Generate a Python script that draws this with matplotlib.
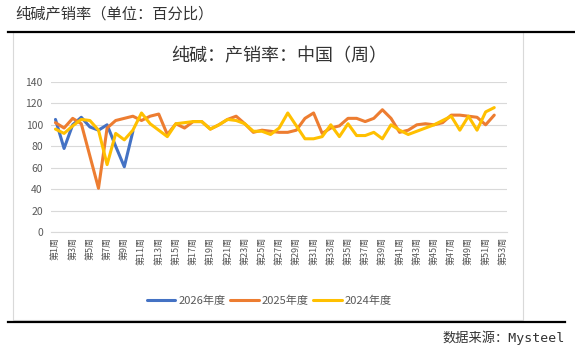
import matplotlib
matplotlib.use("Agg")
import matplotlib.pyplot as plt
from matplotlib.lines import Line2D
from matplotlib.patches import Rectangle

plt.rcParams["font.family"] = ["Noto Sans CJK SC", "DejaVu Sans"]

# ── data ────────────────────────────────────────────────────────────────────
weeks = list(range(1, 54))
week_labels = [f"第{w}周" for w in weeks]

sales_2026 = [105, 78, 100, 107, 98, 95, 100, 80, 61, 94]
sales_2025 = [102, 97, 106, 101, 71, 41, 97, 104, 106, 108,
              104, 108, 110, 91, 101, 97, 103, 103, 96, 100,
              105, 108, 101, 93, 95, 94, 93, 93, 95, 106,
              111, 92, 97, 99, 106, 106, 103, 106, 114, 106,
              93, 95, 100, 101, 100, 102, 109, 109, 108, 107,
              100, 109]
sales_2024 = [96, 92, 99, 105, 104, 95, 63, 92, 86, 95,
              111, 101, 95, 89, 101, 102, 103, 103, 96, 100,
              105, 104, 101, 94, 94, 91, 97, 111, 99, 87,
              87, 89, 100, 89, 101, 90, 90, 93, 87, 100,
              95, 91, 94, 97, 100, 104, 108, 95, 108, 95,
              112, 116]

series = [
    ("2026年度", sales_2026, "#4472C4"),
    ("2025年度", sales_2025, "#ED7D31"),
    ("2024年度", sales_2024, "#FFC000"),
]

GRAY = "#595959"

fig = plt.figure(figsize=(5.75, 3.51), dpi=100)
ax = fig.add_axes([0.089, 0.338, 0.793, 0.429])

for name, vals, col in series:
    ax.plot(weeks[:len(vals)], vals, color=col, linewidth=2.2, label=name,
            solid_joinstyle="round", solid_capstyle="round")

ax.set_xlim(0.5, 53.5)
ax.set_ylim(0, 140)
ax.set_yticks(range(0, 141, 20))
ax.grid(True, axis="y", color="#D9D9D9", linewidth=0.8)
ax.set_axisbelow(True)
for s in ["top", "right", "left"]:
    ax.spines[s].set_visible(False)
ax.spines["bottom"].set_color("#D9D9D9")
ax.spines["bottom"].set_linewidth(0.8)

ax.set_xticks(weeks[::2])
ax.set_xticklabels(week_labels[::2], rotation=90, fontsize=6.5, color=GRAY)
ax.tick_params(axis="x", length=0, pad=3)
ax.tick_params(axis="y", length=0, pad=6, labelsize=7.5, labelcolor=GRAY)

ax.set_title("纯碱：产销率：中国（周）", fontsize=13, color="#333333", pad=15)

fig.legend(loc="center", bbox_to_anchor=(0.468, 0.143), ncol=3, frameon=False,
           fontsize=8, handlelength=2.6, handletextpad=0.25, columnspacing=0.4,
           labelcolor=GRAY)

# ── page decorations ────────────────────────────────────────────────────────
W, H = 575, 351
fig.add_artist(Rectangle((13.5 / W, 1 - 320 / H), (523 - 13.5) / W, (320 - 32) / H,
                         transform=fig.transFigure, fill=False,
                         edgecolor="#D9D9D9", linewidth=0.8))
fig.add_artist(Line2D([8 / W, 1.0], [1 - 32 / H] * 2, transform=fig.transFigure,
                      color="black", linewidth=1.6))
fig.add_artist(Line2D([8 / W, 565 / W], [1 - 321.5 / H] * 2, transform=fig.transFigure,
                      color="black", linewidth=1.6))

fig.text(15 / W, 1 - 14 / H, "纯碱产销率（单位：百分比）", fontsize=11,
         color="#333333", va="center", ha="left")
fig.text(565 / W, 1 - 338 / H, "数据来源：Mysteel", fontsize=9.5,
         color="#333333", va="center", ha="right",
         family=["DejaVu Sans Mono", "Noto Sans CJK SC"])

fig.savefig("out.png", dpi=100)
